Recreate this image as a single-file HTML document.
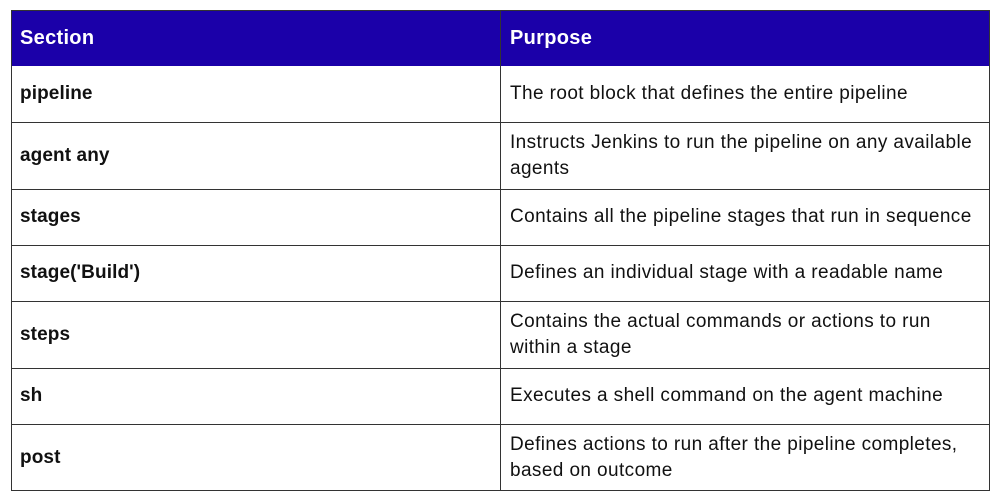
<!DOCTYPE html>
<html><head><meta charset="utf-8"><style>
body{margin:0;width:1000px;height:500px;background:#fff;position:relative;font-family:"Liberation Sans",sans-serif;overflow:hidden}
.h{position:absolute;left:11px;top:10px;width:979px;height:56px;background:#1b00a9}
.l{position:absolute;background:#333}
.t{position:absolute;font-size:19px;letter-spacing:0.4px;color:#111;line-height:26px;white-space:nowrap}
.b{font-weight:bold;letter-spacing:0.1px}
.w{color:#fff;font-weight:bold;font-size:20px;letter-spacing:0.3px}
</style></head><body>
<div class="h"></div>
<div class="l" style="left:11px;top:10px;width:1px;height:481px"></div>
<div class="l" style="left:989px;top:10px;width:1px;height:481px"></div>
<div class="l" style="left:500px;top:10px;width:1px;height:481px"></div>
<div class="l" style="left:11px;top:10px;width:979px;height:1px"></div>
<div class="l" style="left:11px;top:122px;width:979px;height:1px"></div>
<div class="l" style="left:11px;top:189px;width:979px;height:1px"></div>
<div class="l" style="left:11px;top:245px;width:979px;height:1px"></div>
<div class="l" style="left:11px;top:301px;width:979px;height:1px"></div>
<div class="l" style="left:11px;top:368px;width:979px;height:1px"></div>
<div class="l" style="left:11px;top:424px;width:979px;height:1px"></div>
<div class="l" style="left:11px;top:490px;width:979px;height:1px"></div>
<div class="t w" style="left:20px;top:25px">Section</div>
<div class="t w" style="left:510px;top:25px">Purpose</div>
<div class="t b" style="left:20px;top:81px">pipeline</div>
<div class="t" style="left:510px;top:81px">The root block that defines the entire pipeline</div>
<div class="t b" style="left:20px;top:143px">agent any</div>
<div class="t" style="left:510px;top:130px">Instructs Jenkins to run the pipeline on any available<br>agents</div>
<div class="t b" style="left:20px;top:204px">stages</div>
<div class="t" style="left:510px;top:204px">Contains all the pipeline stages that run in sequence</div>
<div class="t b" style="left:20px;top:260px">stage('Build')</div>
<div class="t" style="left:510px;top:260px">Defines an individual stage with a readable name</div>
<div class="t b" style="left:20px;top:322px">steps</div>
<div class="t" style="left:510px;top:309px">Contains the actual commands or actions to run<br>within a stage</div>
<div class="t b" style="left:20px;top:383px">sh</div>
<div class="t" style="left:510px;top:383px">Executes a shell command on the agent machine</div>
<div class="t b" style="left:20px;top:445px">post</div>
<div class="t" style="left:510px;top:432px">Defines actions to run after the pipeline completes,<br>based on outcome</div>
</body></html>
